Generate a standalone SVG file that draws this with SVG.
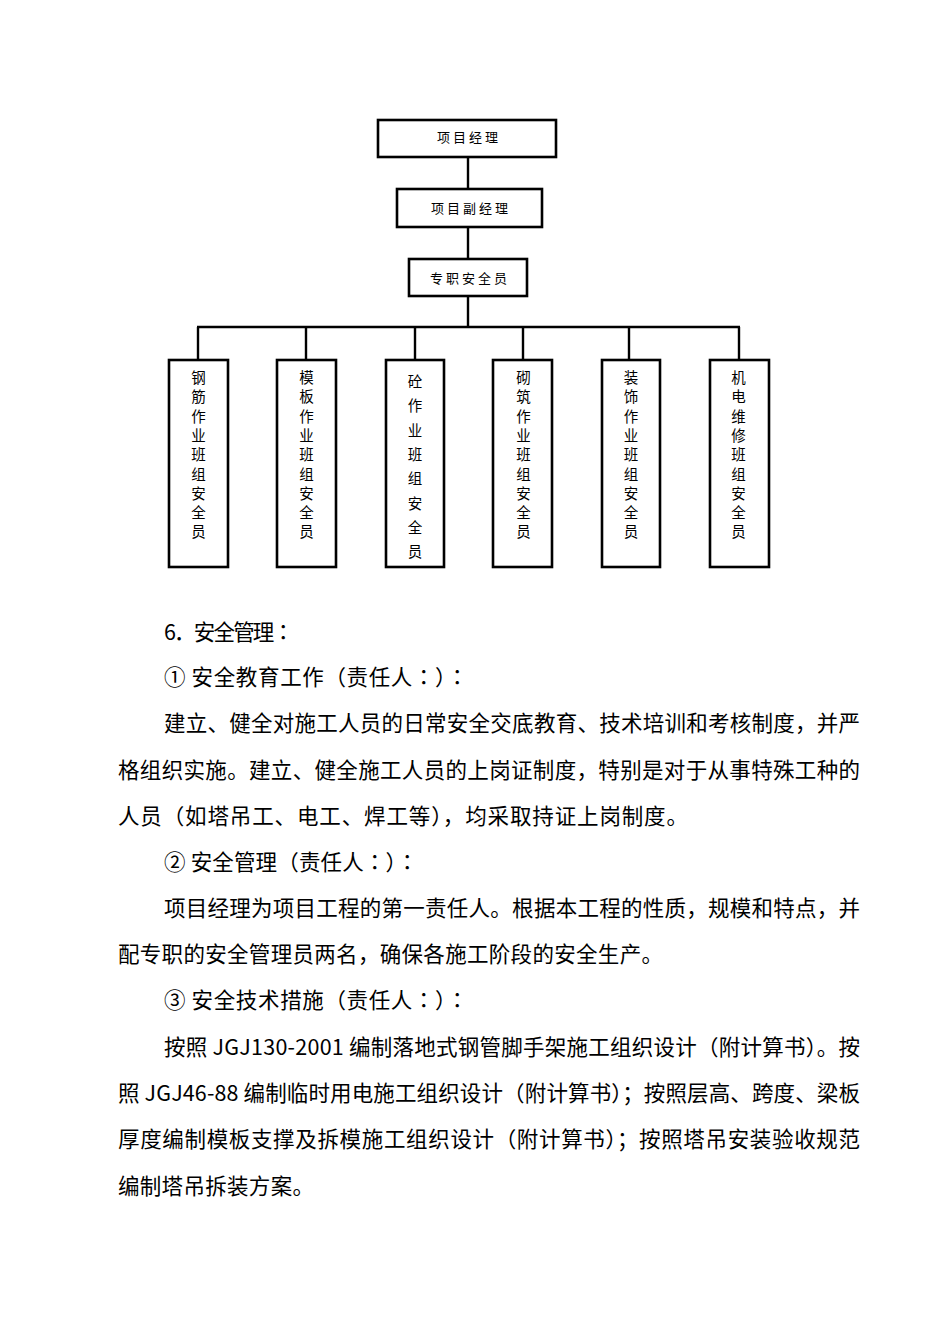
<svg xmlns="http://www.w3.org/2000/svg" width="950" height="1344" viewBox="0 0 950 1344">
<style>
.box{fill:#fff;stroke:#000;stroke-width:2.6}
.lbl{font-family:"Noto Sans CJK SC","Liberation Serif",serif;font-size:13px;letter-spacing:3px;fill:#000;text-anchor:middle}
.vt{font-family:"Noto Sans CJK SC","Liberation Serif",serif;font-size:14.5px;fill:#000;text-anchor:middle}
.conn{stroke:#000;stroke-width:2.4;fill:none}
.body{font-family:"Noto Sans CJK SC","Liberation Serif",serif;font-size:21.5px;fill:#000}
.c{font-family:"Noto Sans CJK JP","Noto Sans CJK SC",sans-serif}
</style>
<rect width="950" height="1344" fill="#fff"/>
<g id="connectors">
<line class="conn" x1="468" y1="157" x2="468" y2="189"/>
<line class="conn" x1="468" y1="227" x2="468" y2="259"/>
<line class="conn" x1="468" y1="296" x2="468" y2="327"/>
<line class="conn" x1="197" y1="327" x2="740" y2="327"/>
<line class="conn" x1="198" y1="327" x2="198" y2="360"/>
<line class="conn" x1="306" y1="327" x2="306" y2="360"/>
<line class="conn" x1="415" y1="327" x2="415" y2="360"/>
<line class="conn" x1="523" y1="327" x2="523" y2="360"/>
<line class="conn" x1="629" y1="327" x2="629" y2="360"/>
<line class="conn" x1="739" y1="327" x2="739" y2="360"/>
</g>
<g id="n1"><rect class="box" x="378" y="120" width="178" height="37"/><text class="lbl" x="469" y="142">项目经理</text></g>
<g id="n2"><rect class="box" x="397" y="189" width="145" height="38"/><text class="lbl" x="471" y="213">项目副经理</text></g>
<g id="n3"><rect class="box" x="409" y="259" width="118" height="37"/><text class="lbl" x="470" y="283">专职安全员</text></g>
<g id="b1"><rect class="box" x="169" y="360" width="59" height="207"/>
<text class="vt"><tspan x="198.5" y="383">钢</tspan><tspan x="198.5" y="402.3">筋</tspan><tspan x="198.5" y="421.6">作</tspan><tspan x="198.5" y="440.9">业</tspan><tspan x="198.5" y="460.2">班</tspan><tspan x="198.5" y="479.5">组</tspan><tspan x="198.5" y="498.8">安</tspan><tspan x="198.5" y="518.1">全</tspan><tspan x="198.5" y="537.4">员</tspan></text></g>
<g id="b2"><rect class="box" x="277" y="360" width="59" height="207"/>
<text class="vt"><tspan x="306.5" y="383">模</tspan><tspan x="306.5" y="402.3">板</tspan><tspan x="306.5" y="421.6">作</tspan><tspan x="306.5" y="440.9">业</tspan><tspan x="306.5" y="460.2">班</tspan><tspan x="306.5" y="479.5">组</tspan><tspan x="306.5" y="498.8">安</tspan><tspan x="306.5" y="518.1">全</tspan><tspan x="306.5" y="537.4">员</tspan></text></g>
<g id="b3"><rect class="box" x="386" y="360" width="58" height="207"/>
<text class="vt"><tspan x="415" y="387">砼</tspan><tspan x="415" y="411.3">作</tspan><tspan x="415" y="435.6">业</tspan><tspan x="415" y="459.9">班</tspan><tspan x="415" y="484.2">组</tspan><tspan x="415" y="508.5">安</tspan><tspan x="415" y="532.8">全</tspan><tspan x="415" y="557.1">员</tspan></text></g>
<g id="b4"><rect class="box" x="493" y="360" width="59" height="207"/>
<text class="vt"><tspan x="523.5" y="383">砌</tspan><tspan x="523.5" y="402.3">筑</tspan><tspan x="523.5" y="421.6">作</tspan><tspan x="523.5" y="440.9">业</tspan><tspan x="523.5" y="460.2">班</tspan><tspan x="523.5" y="479.5">组</tspan><tspan x="523.5" y="498.8">安</tspan><tspan x="523.5" y="518.1">全</tspan><tspan x="523.5" y="537.4">员</tspan></text></g>
<g id="b5"><rect class="box" x="602" y="360" width="58" height="207"/>
<text class="vt"><tspan x="631" y="383">装</tspan><tspan x="631" y="402.3">饰</tspan><tspan x="631" y="421.6">作</tspan><tspan x="631" y="440.9">业</tspan><tspan x="631" y="460.2">班</tspan><tspan x="631" y="479.5">组</tspan><tspan x="631" y="498.8">安</tspan><tspan x="631" y="518.1">全</tspan><tspan x="631" y="537.4">员</tspan></text></g>
<g id="b6"><rect class="box" x="710" y="360" width="59" height="207"/>
<text class="vt"><tspan x="738.5" y="383">机</tspan><tspan x="738.5" y="402.3">电</tspan><tspan x="738.5" y="421.6">维</tspan><tspan x="738.5" y="440.9">修</tspan><tspan x="738.5" y="460.2">班</tspan><tspan x="738.5" y="479.5">组</tspan><tspan x="738.5" y="498.8">安</tspan><tspan x="738.5" y="518.1">全</tspan><tspan x="738.5" y="537.4">员</tspan></text></g>
<g id="body">
<text class="body" x="164" y="640" textLength="130" lengthAdjust="spacing">6．安全管理<tspan class="c">：</tspan></text>
<text class="body" x="164" y="685" textLength="304" lengthAdjust="spacing">① 安全教育工作（责任人<tspan class="c">：</tspan>）<tspan class="c">：</tspan></text>
<text class="body" x="164" y="731" textLength="696" lengthAdjust="spacing">建立、健全对施工人员的日常安全交底教育、技术培训和考核制度，并严</text>
<text class="body" x="118" y="778" textLength="742" lengthAdjust="spacing">格组织实施。建立、健全施工人员的上岗证制度，特别是对于从事特殊工种的</text>
<text class="body" x="118" y="824" textLength="570" lengthAdjust="spacing">人员（如塔吊工、电工、焊工等），均采取持证上岗制度。</text>
<text class="body" x="164" y="870" textLength="254" lengthAdjust="spacing">② 安全管理（责任人<tspan class="c">：</tspan>）<tspan class="c">：</tspan></text>
<text class="body" x="164" y="916" textLength="696" lengthAdjust="spacing">项目经理为项目工程的第一责任人。根据本工程的性质，规模和特点，并</text>
<text class="body" x="118" y="962" textLength="545" lengthAdjust="spacing">配专职的安全管理员两名，确保各施工阶段的安全生产。</text>
<text class="body" x="164" y="1008" textLength="304" lengthAdjust="spacing">③ 安全技术措施（责任人<tspan class="c">：</tspan>）<tspan class="c">：</tspan></text>
<text class="body" x="164" y="1055" textLength="696" lengthAdjust="spacing">按照 JGJ130-2001 编制落地式钢管脚手架施工组织设计（附计算书）。按</text>
<text class="body" x="118" y="1101" textLength="742" lengthAdjust="spacing">照 JGJ46-88 编制临时用电施工组织设计（附计算书）；按照层高、跨度、梁板</text>
<text class="body" x="118" y="1147" textLength="742" lengthAdjust="spacing">厚度编制模板支撑及拆模施工组织设计（附计算书）；按照塔吊安装验收规范</text>
<text class="body" x="118" y="1194" textLength="196" lengthAdjust="spacing">编制塔吊拆装方案。</text>
</g>
</svg>
